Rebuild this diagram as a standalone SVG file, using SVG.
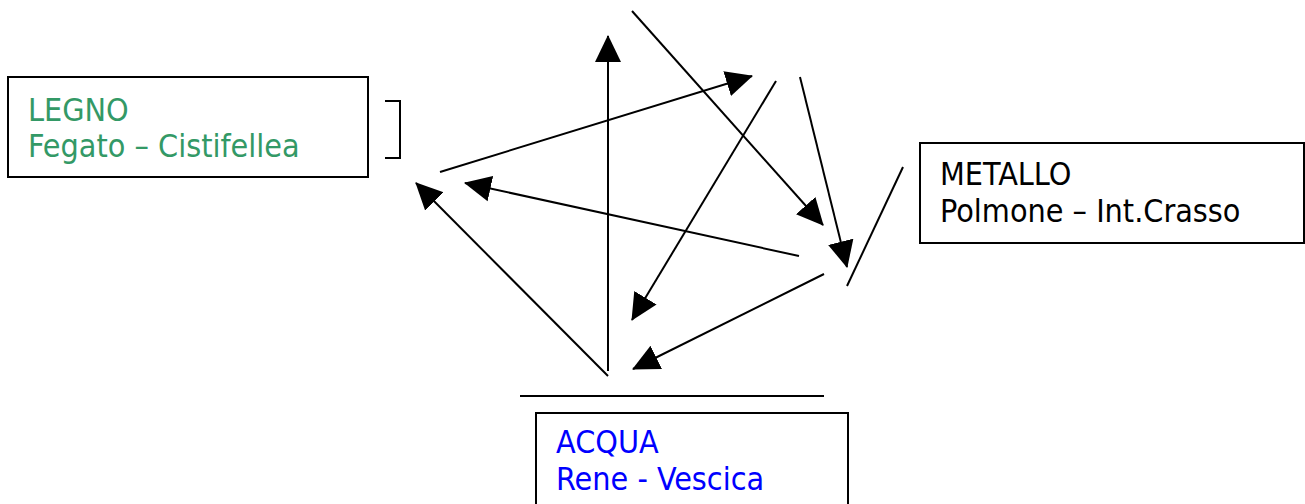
<svg xmlns="http://www.w3.org/2000/svg" width="1305" height="504" viewBox="0 0 1305 504">
<style>
.box{fill:#fff;stroke:#000;stroke-width:2}
.t{font-family:'DejaVu Sans Condensed','DejaVu Sans',sans-serif;font-stretch:condensed;font-size:32px}
.c line,.c path{stroke:#000;stroke-width:2;fill:none}
.a{marker-end:url(#ah)}
</style>
<defs>
<marker id="ah" markerUnits="userSpaceOnUse" markerWidth="28" markerHeight="28" refX="26" refY="13" orient="auto" viewBox="0 0 28 26">
<path d="M0,0 L27,13 L0,26 z" fill="#000"/>
</marker>
</defs>
<g id="legno">
<rect class="box" x="8" y="77" width="360" height="100"/>
<text class="t" fill="#339966" x="28" y="121">LEGNO</text>
<text class="t" fill="#339966" x="28" y="157">Fegato – Cistifellea</text>
</g>
<g id="metallo">
<rect class="box" x="920" y="143" width="384" height="100"/>
<text class="t" fill="#000" x="940" y="185">METALLO</text>
<text class="t" fill="#000" x="940" y="222">Polmone – Int.Crasso</text>
</g>
<g id="acqua">
<rect class="box" x="536" y="413" width="312" height="100"/>
<text class="t" fill="#0000ff" x="556" y="453">ACQUA</text>
<text class="t" fill="#0000ff" x="556" y="490">Rene - Vescica</text>
</g>
<g id="connectors" class="c">
<line class="a" x1="608" y1="371" x2="608" y2="36"/>
<line class="a" x1="632" y1="11" x2="823" y2="225"/>
<line class="a" x1="440" y1="172" x2="752" y2="76"/>
<line class="a" x1="776" y1="81" x2="632" y2="320"/>
<line class="a" x1="800" y1="77" x2="847" y2="267"/>
<line class="a" x1="799" y1="256" x2="465" y2="183"/>
<line class="a" x1="824" y1="274" x2="633" y2="369"/>
<line class="a" x1="608" y1="376" x2="416" y2="183"/>
<line x1="903" y1="167" x2="847" y2="286"/>
<line x1="520" y1="396" x2="824" y2="396"/>
<path d="M385,101 H400 V158 H385"/>
</g>
</svg>
